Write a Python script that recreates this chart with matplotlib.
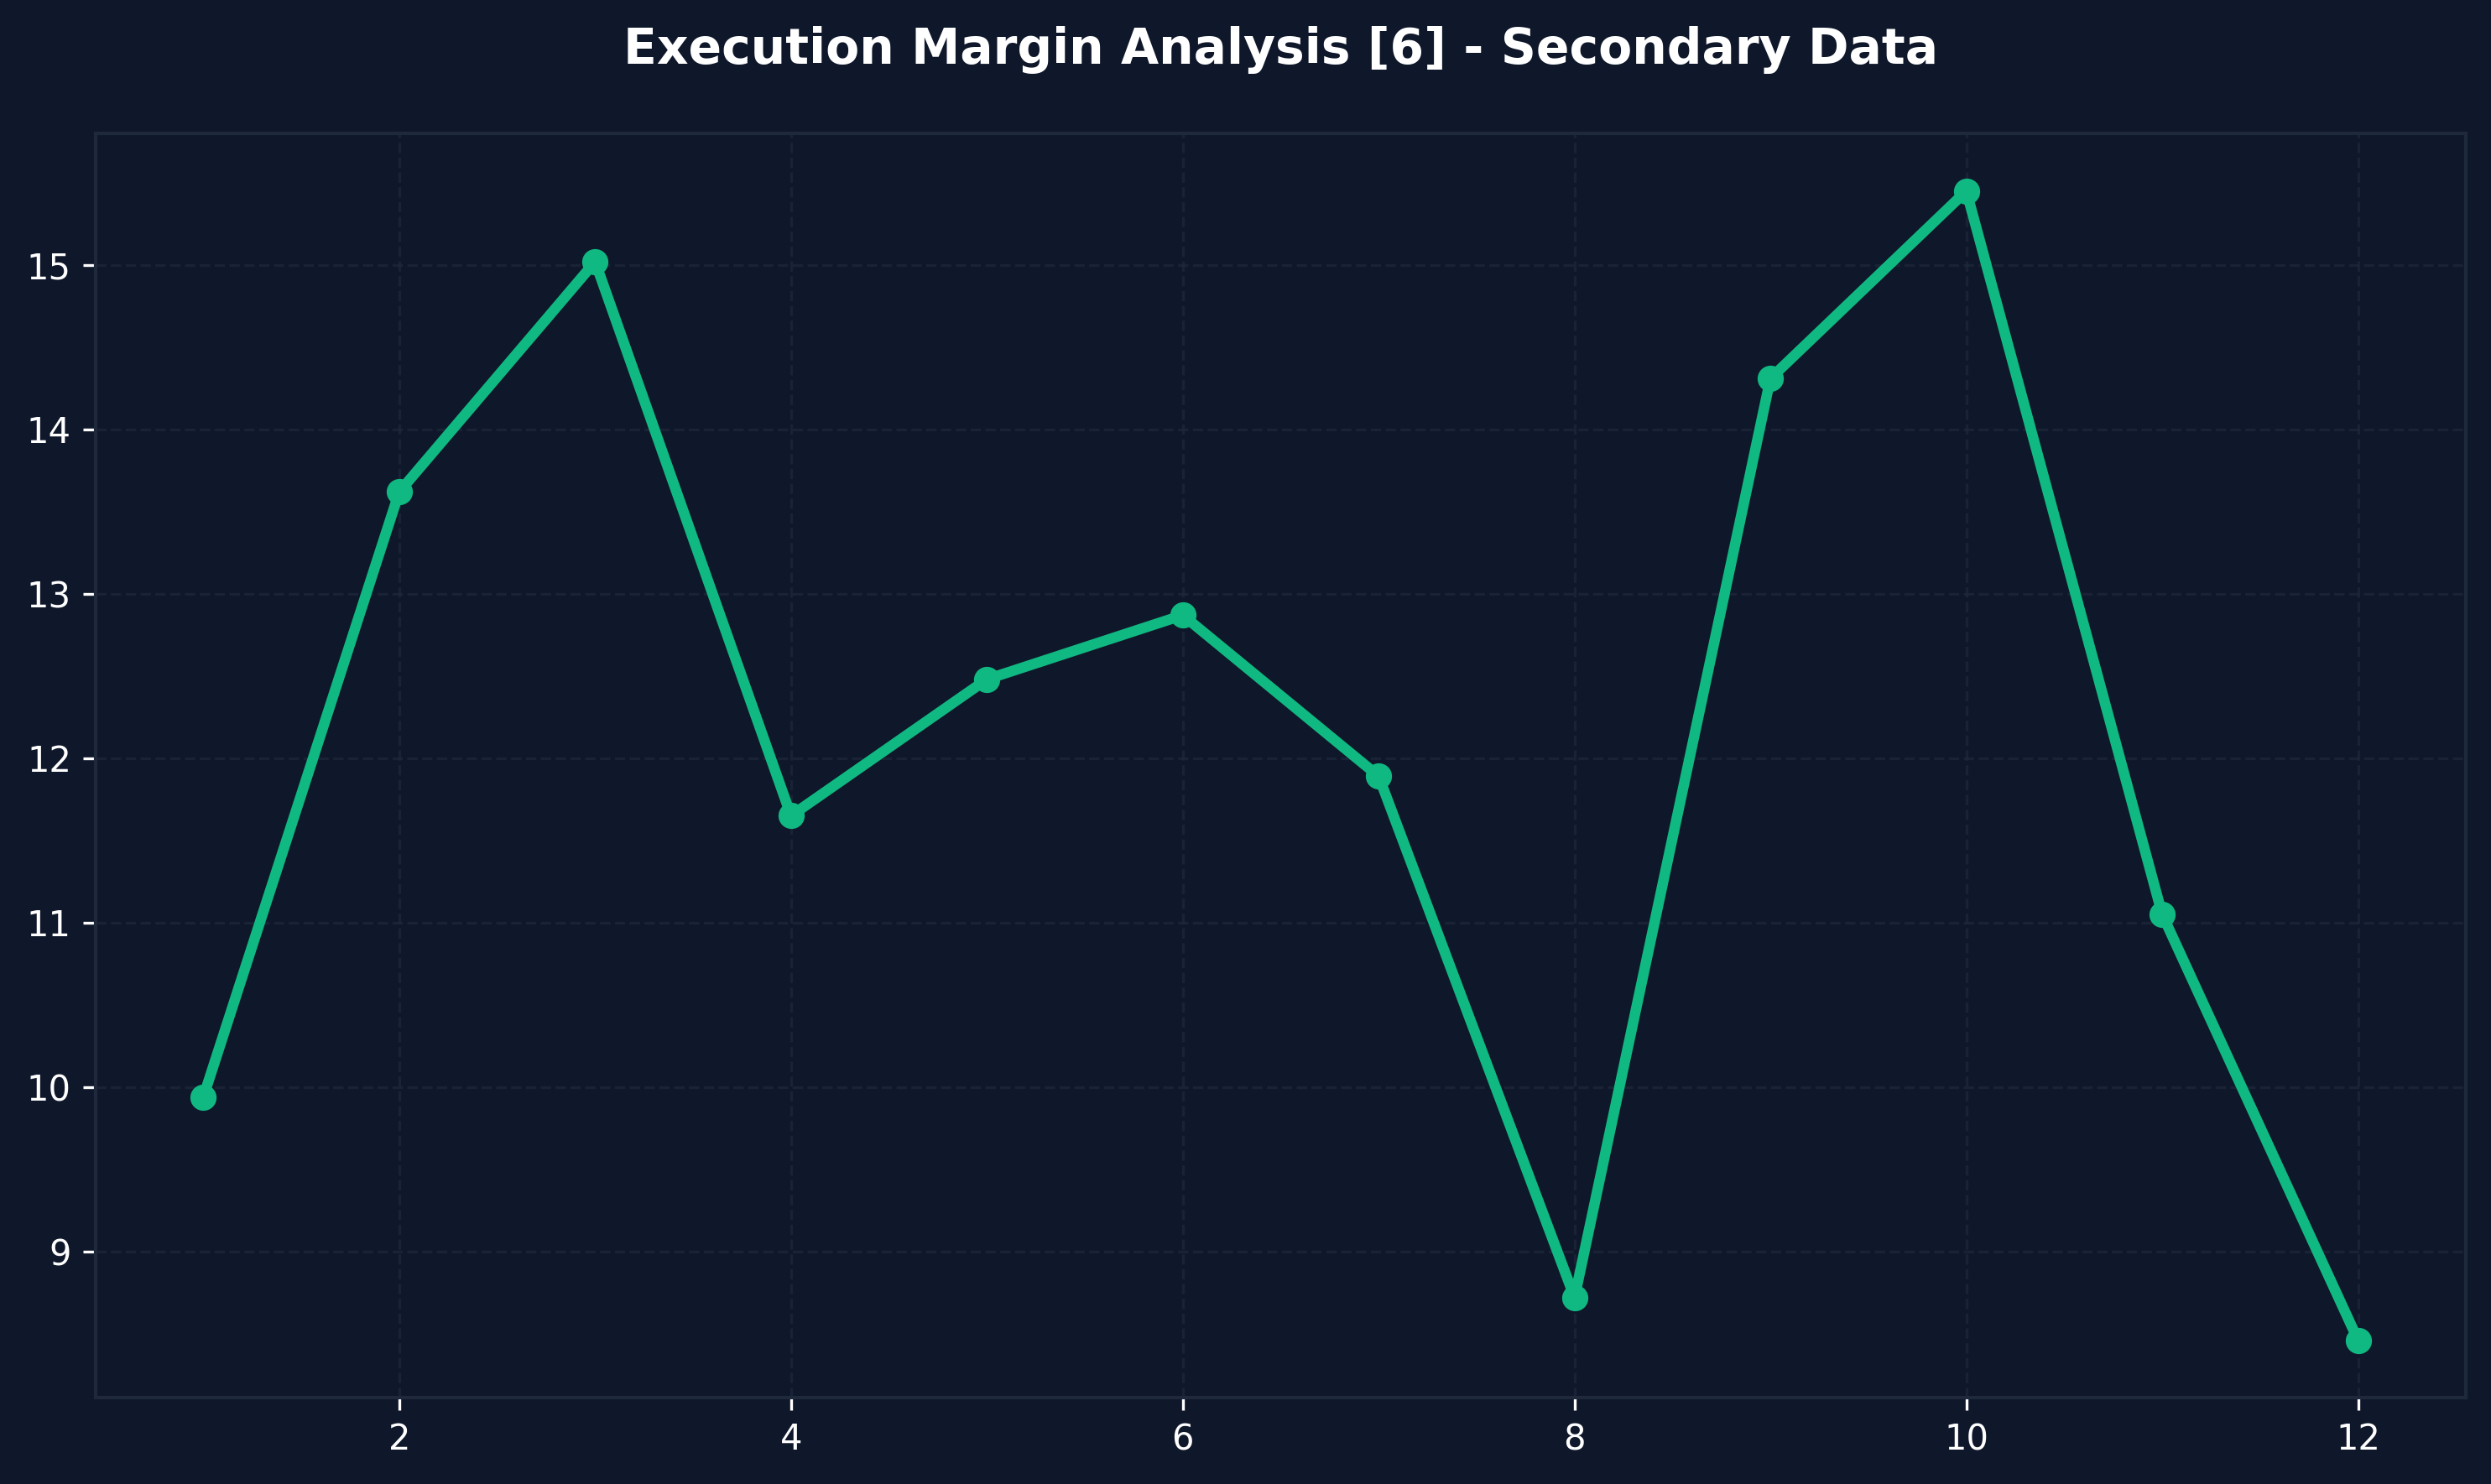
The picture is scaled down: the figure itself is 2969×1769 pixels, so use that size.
"""Execution margin line chart on a dark background."""

import matplotlib

matplotlib.use("Agg")

import matplotlib.pyplot as plt

BG = "#0f172a"
LINE = "#10b981"
GRID = "#1e293b"

periods = [1, 2, 3, 4, 5, 6, 7, 8, 9, 10, 11, 12]
margin = [9.94, 13.62, 15.02, 11.65, 12.48, 12.87, 11.89, 8.72, 14.31, 15.45, 11.05, 8.46]
title = "Execution Margin Analysis [6] - Secondary Data"

fig, ax = plt.subplots(figsize=(2969 / 300, 1769 / 300), dpi=300)
fig.patch.set_facecolor(BG)
ax.set_facecolor(BG)
fig.subplots_adjust(left=0.0384, right=0.9899, top=0.910, bottom=0.0582)

ax.plot(periods, margin, color=LINE, lw=3, marker="o", markersize=6.5)

ax.grid(True, color=GRID, linestyle="--", lw=0.8, alpha=0.7)
ax.set_axisbelow(True)
for spine in ax.spines.values():
    spine.set_color(GRID)
    spine.set_linewidth(1.0)
ax.tick_params(colors="white", labelsize=10)

ax.set_title(title, color="white", fontsize=14, fontweight="bold", pad=20)

fig.savefig("out.png", dpi=300, facecolor=BG)
plt.close(fig)
